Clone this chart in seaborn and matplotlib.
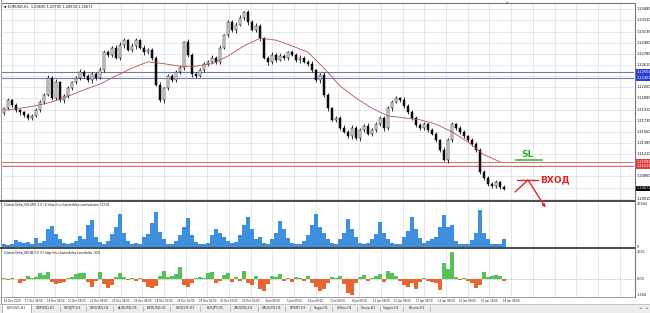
import matplotlib
matplotlib.use("Agg")
import numpy as np
import pandas as pd
import matplotlib.pyplot as plt
import matplotlib.transforms as mtransforms
from matplotlib.patches import Rectangle
import seaborn as sns

# ---------------- data ----------------
header = "\u25bc EURUSD,H1  1.20690 1.20705 1.20630 1.20671"
vol_title = "ClusterDelta_VOLUME 3.0 (1) http://ru.clusterdelta.com/volume 12794"
delta_title = "ClusterDelta_DELTA 3.0 (1) http://ru.clusterdelta.com/delta -320"

first_open = 1.2186
closes = [
    1.2193, 1.2206, 1.2198, 1.2190, 1.2187, 1.2182, 1.2178, 1.2181, 1.2190, 1.2203,
    1.2214, 1.2241, 1.2209, 1.2234, 1.2206, 1.2212, 1.2225, 1.2234, 1.2241, 1.2250,
    1.2244, 1.2237, 1.2247, 1.2241, 1.2253, 1.2281, 1.2277, 1.2288, 1.2272, 1.2292,
    1.2300, 1.2285, 1.2291, 1.2300, 1.2288, 1.2281, 1.2285, 1.2272, 1.2230, 1.2206,
    1.2225, 1.2244, 1.2237, 1.2250, 1.2256, 1.2297, 1.2277, 1.2247, 1.2244, 1.2253,
    1.2263, 1.2266, 1.2272, 1.2266, 1.2288, 1.2308, 1.2328, 1.2316, 1.2324, 1.2335,
    1.2344, 1.2328, 1.2316, 1.2322, 1.2303, 1.2272, 1.2266, 1.2277, 1.2269, 1.2275,
    1.2272, 1.2281, 1.2277, 1.2269, 1.2272, 1.2266, 1.2263, 1.2253, 1.2237, 1.2245,
    1.2214, 1.2193, 1.2175, 1.2178, 1.2162, 1.2156, 1.2149, 1.2162, 1.2146, 1.2159,
    1.2165, 1.2153, 1.2159, 1.2168, 1.2178, 1.2162, 1.2193, 1.2203, 1.2209, 1.2206,
    1.2197, 1.2187, 1.2178, 1.2167, 1.2162, 1.2168, 1.2159, 1.2153, 1.2143, 1.2128,
    1.2112, 1.2143, 1.2168, 1.2162, 1.2156, 1.2149, 1.2143, 1.2137, 1.2128, 1.2093,
    1.2084, 1.2074, 1.2071, 1.2077, 1.2069, 1.2067]
wick_hi_pips = [
    4, 6, 3, 5, 4, 3, 5, 4, 6, 5, 4, 8, 5, 7, 4, 5, 6, 4, 5, 7, 4, 5, 6, 4,
    8, 5, 7, 4, 6, 8, 5, 4, 7, 5, 4, 6, 5, 4, 6, 7, 3, 5, 6, 5, 7, 4, 9, 5,
    4, 6, 5, 4, 7, 5, 6, 4, 5, 6, 8, 7, 4, 6, 5, 8, 6, 4, 5, 6, 4, 7, 5, 4,
    6, 5, 7, 4, 5, 6, 4, 5, 7, 6, 4, 5, 6, 8, 5, 7, 4, 6, 5, 7, 4, 5, 6, 4,
    7, 5, 6, 4, 9, 5, 6, 4, 5, 7, 4, 6, 5, 4, 6, 5, 7, 4, 5, 6, 4, 5, 6, 4,
    5, 4, 6, 5, 4, 6]
wick_lo_pips = [
    5, 4, 6, 5, 7, 4, 5, 6, 4, 5, 6, 4, 6, 5, 4, 8, 5, 6, 4, 5, 7, 4, 6, 5,
    4, 6, 5, 7, 4, 5, 6, 4, 5, 7, 4, 6, 5, 6, 4, 5, 8, 6, 4, 5, 6, 4, 5, 7,
    6, 4, 5, 7, 4, 6, 5, 4, 6, 5, 7, 4, 5, 6, 4, 5, 6, 4, 8, 5, 6, 4, 5, 6,
    4, 5, 7, 4, 6, 5, 4, 6, 5, 7, 4, 5, 6, 4, 5, 6, 4, 7, 5, 4, 6, 5, 4, 8,
    5, 6, 4, 5, 7, 4, 6, 5, 4, 6, 5, 4, 6, 5, 4, 7, 5, 4, 6, 5, 4, 6, 5, 4,
    5, 6, 4, 5, 4, 5]
ma_values = [
    1.2190, 1.2193, 1.2197, 1.2203, 1.2212, 1.2222, 1.2231, 1.2244,
    1.2256, 1.2266, 1.2263, 1.2259, 1.2259, 1.2263, 1.2275, 1.2291,
    1.2303, 1.2300, 1.2291, 1.2281, 1.2256, 1.2228, 1.2209, 1.2193,
    1.2181, 1.2178, 1.2175, 1.2168, 1.2156, 1.2140, 1.2120, 1.2109]
volumes = [
    1470, 980, 1470, 3430, 2450, 1960, 2450, 1470, 4410, 1960,
    2940, 8820, 10290, 6370, 3920, 1960, 1470, 1960, 2940, 5390,
    3920, 10780, 13230, 4900, 2450, 1470, 2940, 6370, 9800, 16170,
    6860, 2940, 1470, 1960, 1470, 4900, 6370, 11760, 17150, 7350,
    3920, 1470, 1470, 2940, 5880, 9800, 14210, 5880, 2450, 1470,
    1470, 1960, 5880, 8820, 6860, 4900, 2940, 1960, 2450, 5880,
    10780, 14700, 8820, 3920, 4900, 1960, 1470, 3920, 6860, 12740,
    8820, 4410, 1960, 1470, 1470, 2940, 5880, 10780, 16170, 9800,
    6860, 3920, 1960, 1470, 3920, 6860, 13720, 8820, 4900, 1960,
    1470, 1960, 3920, 6370, 12250, 6860, 3920, 1960, 1470, 1470,
    4900, 7840, 14700, 8820, 4410, 1960, 2940, 3920, 4900, 9800,
    15680, 9800, 10780, 2940, 1470, 1470, 1470, 3430, 6860, 18130,
    6860, 3920, 1470, 1470, 1470, 3920]
deltas = [
    98, -98, 98, 49, -392, -196, 294, 98, 196, 588,
    392, 686, -294, -490, -392, -294, 98, 196, 490, 588,
    588, -294, -784, -196, 686, -490, -882, -588, 196, 588,
    196, -98, 98, -196, 98, -294, -784, -882, -686, 294,
    784, 196, 294, 490, 1176, -588, -784, -392, 98, 196,
    98, 588, 686, -392, -196, 392, 588, -294, 196, -196,
    784, -392, -588, 294, -980, -1176, -490, 294, 196, 490,
    -196, 98, -294, 196, 98, -196, 294, -392, -784, -1176,
    -980, -392, 196, 98, 294, -490, -1372, -1568, -392, 196,
    392, -196, 98, 294, 490, -294, 784, 588, 294, -196,
    -588, -784, -392, -980, -294, 98, -196, -294, -392, -1078,
    1568, 980, 2646, 196, -98, 98, -196, -392, -882, -588,
    686, 196, 294, 392, 294, -196]
price_ticks = [1.23485, 1.23310, 1.23135, 1.22960, 1.22785, 1.22610, 1.22435,
               1.22260, 1.22085, 1.21910, 1.21735, 1.21560, 1.21385, 1.21210,
               1.21035, 1.20860, 1.20685, 1.20510]
blue_levels = [1.22504, 1.22401]
red_levels = [1.21082, 1.21019]
last_price = 1.20671
vol_axis_labels = [(20942, "20942"), (0, "0")]
delta_axis_labels = [(2651, "2651"), (0, "0.00"), (-1584, "-1584")]
time_labels = ["16 Dec 2020", "17 Dec 08:00", "18 Dec 08:00", "21 Dec 08:00",
               "22 Dec 08:00", "23 Dec 08:00", "24 Dec 08:00", "28 Dec 00:00",
               "28 Dec 16:00", "29 Dec 16:00", "30 Dec 16:00", "31 Dec 16:00",
               "4 Jan 08:00", "5 Jan 08:00", "6 Jan 08:00", "7 Jan 08:00",
               "8 Jan 08:00", "11 Jan 08:00", "12 Jan 08:00", "13 Jan 08:00",
               "14 Jan 08:00", "15 Jan 08:00", "15 Jan 18:00", "18 Jan 08:00"]
tab_names = ["EURUSD,H1", "GBPUSD,H1", "USDJPY,H1", "USDCAD,H1", "AUDUSD,H1",
             "NZDUSD,H1", "USDCHF,H1", "EURJPY,H1", "XAUUSD,H1", "XAGUSD,H1",
             "BRENT,H1", "Sugar,H1", "Coffee,H1", "Cocoa,H1", "Copper,H1",
             "Bitcoin,H1"]

# ---------------- figure / layout ----------------
sns.set_theme(style="white")
plt.rcParams['font.family'] = ['DejaVu Sans']
W, H = 650, 313
fig = plt.figure(figsize=(6.5, 3.13), dpi=100)
fig.patch.set_facecolor('white')


def ax_px(x0, y0, x1, y1):
    a = fig.add_axes([x0 / W, 1 - y1 / H, (x1 - x0) / W, (y1 - y0) / H])
    a.set_facecolor('white')
    return a


ax = ax_px(2, 3, 634, 200)
axv = ax_px(2, 201, 634, 247)
axd = ax_px(2, 249, 634, 297)

n = len(closes)
idx = np.arange(n)
XMIN, XMAX = -0.5, 157.5
grid_pos = [2 + 5.425 * j for j in range(29)]
GRID_C = '#dadada'
FS = 2.5

df = pd.DataFrame({"i": idx, "close": closes, "vol": volumes, "delta": deltas})
df["open"] = [first_open] + closes[:-1]
df["top"] = df[["open", "close"]].max(axis=1)
df["bot"] = df[["open", "close"]].min(axis=1)
df["high"] = df["top"] + np.array(wick_hi_pips) * 0.0001 * 0.6
df["low"] = df["bot"] - np.array(wick_lo_pips) * 0.0001 * 0.6
df["dir"] = np.where(df["delta"] >= 0, "up", "dn")

# ---------------- main price panel ----------------
for g in grid_pos:
    ax.axvline(g, color=GRID_C, lw=0.45, zorder=0)
for t in price_ticks:
    ax.axhline(t, color=GRID_C, lw=0.45, zorder=0)
for lv in blue_levels:
    ax.axhline(lv, color='#6f7cb4', lw=0.8, zorder=1)
for lv in red_levels:
    ax.axhline(lv, color='#d66a6a', lw=0.7, zorder=1)

ax.vlines(df["i"], df["low"], df["high"], color='black', lw=0.55, zorder=2)
heights = np.maximum(df["top"] - df["bot"], 0.00004)
fcols = ['#f4f4f4' if c >= o else '#111111' for o, c in zip(df["open"], df["close"])]
ax.bar(df["i"], heights, bottom=df["bot"], width=0.5, color=fcols,
       edgecolor='black', linewidth=0.35, zorder=3)

ma_idx = np.arange(0, 4 * len(ma_values), 4)
sns.lineplot(x=ma_idx, y=ma_values, ax=ax, color='#b9524f', linewidth=0.6,
             legend=False, sort=False, estimator=None, zorder=4)

ax.set_xlim(XMIN, XMAX)
ax.set_ylim(1.2049, 1.23583)
ax.axis('off')

tr_main = mtransforms.blended_transform_factory(ax.transAxes, ax.transData)
special = blue_levels + red_levels + [last_price]
for t in price_ticks:
    if min(abs(t - s) for s in special) > 0.0006:
        ax.text(1.004, t, f"{t:.5f}", transform=tr_main, fontsize=FS,
                va='center', ha='left', color='black', clip_on=False)
for lv in blue_levels:
    ax.text(1.004, lv, f"{lv:.5f}", transform=tr_main, fontsize=FS, va='center',
            ha='left', color='white', clip_on=False,
            bbox=dict(boxstyle='square,pad=0.25', fc='#2d3fd0', ec='none'))
for lv in red_levels:
    ax.text(1.004, lv, f"{lv:.5f}", transform=tr_main, fontsize=FS, va='center',
            ha='left', color='white', clip_on=False,
            bbox=dict(boxstyle='square,pad=0.25', fc='#e03b3b', ec='none'))
ax.text(1.004, last_price, f"{last_price:.5f}", transform=tr_main, fontsize=FS,
        va='center', ha='left', color='white', clip_on=False,
        bbox=dict(boxstyle='square,pad=0.25', fc='black', ec='none'))

# ---------------- volume panel ----------------
for g in grid_pos:
    axv.axvline(g, color=GRID_C, lw=0.45, zorder=0)
sns.barplot(data=df, x="i", y="vol", native_scale=True, ax=axv, color='#3f8fdf',
            saturation=1, width=0.95, linewidth=0, errorbar=None, zorder=2)
axv.set_xlim(XMIN, XMAX)
axv.set_ylim(0, 22400)
axv.axis('off')
tr_v = mtransforms.blended_transform_factory(axv.transAxes, axv.transData)
for v, s in vol_axis_labels:
    axv.text(1.004, v, s, transform=tr_v, fontsize=FS, va='center', ha='left',
             clip_on=False)

# ---------------- delta panel ----------------
for g in grid_pos:
    axd.axvline(g, color=GRID_C, lw=0.45, zorder=0)
axd.axhline(0, color='#888888', lw=0.5, ls=(0, (1, 1.5)), zorder=1)
sns.barplot(data=df, x="i", y="delta", hue="dir", native_scale=True, dodge=False,
            palette={"up": '#55c255', "dn": '#e8652f'}, ax=axd, saturation=1,
            width=0.9, linewidth=0, errorbar=None, legend=False, zorder=2)
axd.set_xlim(XMIN, XMAX)
axd.set_ylim(-1764, 2940)
axd.axis('off')
tr_d = mtransforms.blended_transform_factory(axd.transAxes, axd.transData)
for v, s in delta_axis_labels:
    axd.text(1.004, v, s, transform=tr_d, fontsize=FS, va='center', ha='left',
             clip_on=False)

# time labels under delta panel
tr_t = mtransforms.blended_transform_factory(axd.transData, axd.transAxes)
for g, lab in zip(grid_pos, time_labels):
    axd.text(g, -0.075, lab, transform=tr_t, fontsize=1.9, ha='center',
             va='center', color='#222222', clip_on=False)

# ---------------- overlay (frame, titles, annotations, tabs) ----------------
ov = fig.add_axes([0, 0, 1, 1])
ov.set_xlim(0, W)
ov.set_ylim(H, 0)
ov.axis('off')
ov.patch.set_alpha(0)

ov.plot([0.5, 0.5], [0, 304], color='#a0a0a0', lw=0.8)
ov.plot([2, 634], [2.6, 2.6], color='#777777', lw=0.8)
ov.plot([0, 634.5], [200.6, 200.6], color='#3a3a3a', lw=1.3)
ov.plot([0, 634.5], [247.6, 247.6], color='#3a3a3a', lw=1.3)
ov.plot([2, 634.5], [297.4, 297.4], color='#8a8a8a', lw=0.6)
ov.plot([634.5, 634.5], [2.6, 297.4], color='#777777', lw=0.8)
ov.text(507, 3.2, "\u25bc", fontsize=2.2, color='#777777', ha='center', va='center')

ov.text(4, 6.6, header, fontsize=FS, ha='left', va='center', color='#111111')
ov.text(4, 204.6, vol_title, fontsize=2.2, ha='left', va='center', color='#111111')
ov.text(4, 252.6, delta_title, fontsize=2.2, ha='left', va='center', color='#111111')

# SL mark
ov.text(528, 154.5, "SL", fontsize=6.5, fontweight='bold', color='#2fb12f',
        ha='center', va='center')
ov.plot([515, 543], [160, 160], color='#2fb12f', lw=1.1, solid_capstyle='butt')
# entry mark
RED = '#e02424'
ov.text(540, 180, "ВХОД", fontsize=6.5, fontweight='bold', color=RED,
        ha='left', va='center')
ov.plot([517, 538], [180, 180], color=RED, lw=1.0)
ov.plot([515, 528], [192, 180], color=RED, lw=1.0)
ov.annotate('', xy=(545.5, 207.5), xytext=(528, 180),
            arrowprops=dict(arrowstyle='-|>', color=RED, lw=1.0,
                            mutation_scale=4, shrinkA=0, shrinkB=0))

# tab bar
ov.add_patch(Rectangle((0, 303.8), 650, 9.5, facecolor='#ececec', edgecolor='none'))
ov.plot([0, 650], [303.8, 303.8], color='#b0b0b0', lw=0.5)
bounds = [2, 31, 60, 86, 113, 143, 170, 200, 230, 258, 285, 310, 332, 357,
          380, 403, 430]
ov.add_patch(Rectangle((1.5, 303.5), 29, 9, facecolor='white',
                       edgecolor='#9a9a9a', lw=0.5))
for k, name in enumerate(tab_names):
    cx = (bounds[k] + bounds[k + 1]) / 2
    ov.text(cx, 308.3, name, fontsize=2.3, ha='center', va='center',
            color='#333333')
    if k > 0:
        ov.plot([bounds[k], bounds[k]], [305.5, 311], color='#999999', lw=0.4)
ov.plot([bounds[-1], bounds[-1]], [305.5, 311], color='#999999', lw=0.4)
ov.text(640, 308.3, "\u25c4", fontsize=2.4, color='#777777', ha='center', va='center')
ov.text(647, 308.3, "\u25ba", fontsize=2.4, color='#777777', ha='center', va='center')

fig.savefig("out.png", dpi=100, facecolor='white')
